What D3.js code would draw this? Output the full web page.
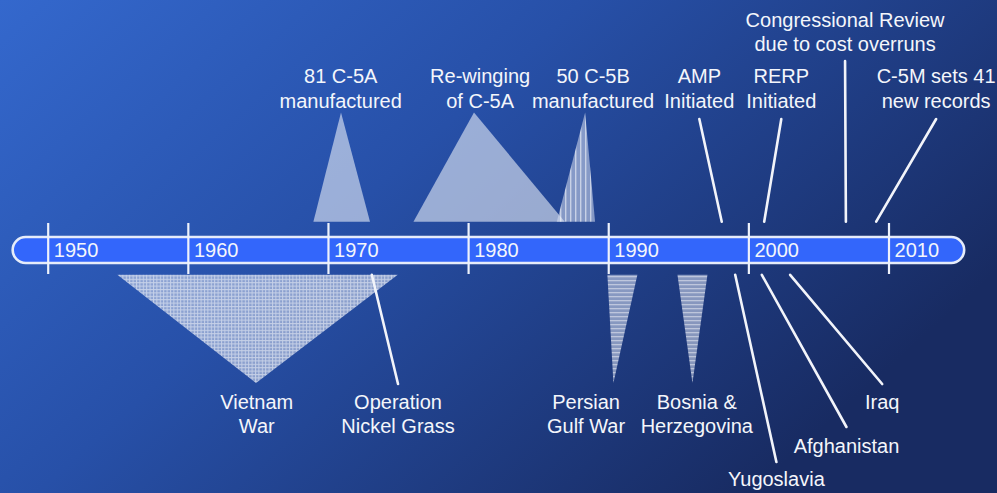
<!DOCTYPE html>
<html lang="en">
<head>
<meta charset="UTF-8">
<title>C-5 Timeline</title>
<style>
html, body {
    margin: 0;
    padding: 0;
    width: 100%;
    height: 100%;
    overflow: hidden;
}
#graph {
    width: 997px;
    height: 493px;
}
text {
    font-family: "Liberation Sans", Arial, sans-serif;
    fill: #f4f6fb;
}
.leader {
    stroke: #f2f4fa;
    stroke-width: 2.6;
    stroke-linecap: round;
    fill: none;
}
.tick line {
    stroke: #eef2fb;
    stroke-width: 2.2;
}
</style>
</head>
<body>

<div id="graph"></div>

<script src="https://d3js.org/d3.v7.min.js"></script>
<script>

// timeline extent and decade ticks
const span = [1947.5, 2015.4];
const decades = [1950, 1960, 1970, 1980, 1990, 2000, 2010];

// wedges above the bar (production / modification periods)
const wedgesAbove = [
    { text: ["81 C-5A", "manufactured"], start: 1968.96, peak: 1970.93, end: 1973.0, labelYear: 1970.91 },
    { text: ["Re-winging", "of C-5A"], start: 1976.1, peak: 1980.42, end: 1986.9, labelYear: 1980.86 },
    { text: ["50 C-5B", "manufactured"], start: 1986.33, peak: 1988.35, end: 1989.06, labelYear: 1988.92 }
];

// wedges below the bar (operations)
const wedgesBelow = [
    { text: ["Vietnam", "War"], start: 1954.97, peak: 1964.87, end: 1974.98, labelYear: 1964.92 },
    { text: ["Persian", "Gulf War"], start: 1989.94, peak: 1990.37, end: 1992.08, labelYear: 1988.42 },
    { text: ["Bosnia &", "Herzegovina"], start: 1994.94, peak: 1996.01, end: 1997.08, labelYear: 1996.32 }
];

// single-date events: year on the bar, year where the leader meets the label, label tier
const eventsAbove = [
    { text: ["AMP", "Initiated"], year: 1998.1, to: 1996.5, tier: 0 },
    { text: ["RERP", "Initiated"], year: 2001.13, to: 2002.35, tier: 0 },
    { text: ["Congressional Review", "due to cost overruns"], year: 2006.96, to: 2006.9, tier: 1 },
    { text: ["C-5M sets 41", "new records"], year: 2009.12, to: 2013.4, tier: 0 }
];

const eventsBelow = [
    { text: ["Operation", "Nickel Grass"], year: 1973.13, to: 1975.0, tier: 0 },
    { text: ["Yugoslavia"], year: 1999.06, to: 2002.0, tier: 2 },
    { text: ["Afghanistan"], year: 2000.96, to: 2007.0, tier: 1 },
    { text: ["Iraq"], year: 2002.98, to: 2009.55, tier: 0 }
];

!(function () {
    const width = 997;
    const height = 493;
    const fontSize = 20;
    const lineGap = 24.4;

    const bar = { cy: 250, h: 26 };
    const tickTop = 223, tickBottom = 274;
    const aboveBase = 221.7, aboveApex = 112.5;
    const belowBase = 274.8, belowApex = 383;

    // label baselines (first line) and leader ends for each tier
    const upperBaseline = [83.3, 27];
    const upperLeaderEnd = [119, 61];
    const lowerBaseline = [408.5, 452.7, 485.5];
    const lowerLeaderEnd = [384, 427, 462];

    // fill style per wedge, same order as data
    const abovePatterns = ["url(#solid)", "url(#solid)", "url(#vstripe)"];
    const belowPatterns = ["url(#grid)", "url(#hstripe)", "url(#hstripe)"];

    const svg = d3.select("#graph").append("svg")
        .attr("width", width)
        .attr("height", height);

    const xScale = d3.scaleLinear()
        .domain([1950, 2010])
        .range([47.7, 888.5]);

    drawDefs();
    drawBackground();
    drawWedges(wedgesAbove, abovePatterns, aboveBase, aboveApex);
    drawWedges(wedgesBelow, belowPatterns, belowBase, belowApex);
    drawBar();
    drawLeaders();
    drawLabels();

    function drawDefs() {
        const defs = svg.append("defs");

        const bg = defs.append("linearGradient")
            .attr("id", "bg")
            .attr("x1", 0).attr("y1", 0)
            .attr("x2", 1).attr("y2", 0.55);
        bg.append("stop").attr("offset", 0).attr("stop-color", "#3468cd");
        bg.append("stop").attr("offset", 0.45).attr("stop-color", "#2750a8");
        bg.append("stop").attr("offset", 1).attr("stop-color", "#182b62");

        defs.append("pattern")
            .attr("id", "solid")
            .attr("patternUnits", "userSpaceOnUse")
            .attr("width", 4).attr("height", 4)
            .append("rect")
            .attr("width", 4).attr("height", 4)
            .attr("fill", "rgba(226,232,246,0.62)");

        const grid = defs.append("pattern")
            .attr("id", "grid")
            .attr("patternUnits", "userSpaceOnUse")
            .attr("width", 3.4).attr("height", 3.4);
        grid.append("rect")
            .attr("width", 3.4).attr("height", 3.4)
            .attr("fill", "rgba(200,210,232,0.62)");
        grid.append("path")
            .attr("d", "M0,0.5H3.4M0.5,0V3.4")
            .attr("stroke", "rgba(255,255,255,0.5)")
            .attr("stroke-width", 1);

        const h = defs.append("pattern")
            .attr("id", "hstripe")
            .attr("patternUnits", "userSpaceOnUse")
            .attr("width", 4).attr("height", 4);
        h.append("rect")
            .attr("width", 4).attr("height", 4)
            .attr("fill", "rgba(205,214,234,0.6)");
        h.append("rect")
            .attr("width", 4).attr("height", 1.3)
            .attr("fill", "rgba(255,255,255,0.45)");

        const v = defs.append("pattern")
            .attr("id", "vstripe")
            .attr("patternUnits", "userSpaceOnUse")
            .attr("width", 5).attr("height", 5);
        v.append("rect")
            .attr("width", 5).attr("height", 5)
            .attr("fill", "rgba(215,222,240,0.55)");
        v.append("rect")
            .attr("width", 1.4).attr("height", 5)
            .attr("fill", "rgba(255,255,255,0.55)");
    }

    function drawBackground() {
        svg.append("rect")
            .attr("width", width)
            .attr("height", height)
            .attr("fill", "url(#bg)");
    }

    function drawWedges(data, patterns, baseY, apexY) {
        svg.append("g")
            .selectAll("path")
            .data(data)
            .enter().append("path")
            .attr("d", d => d3.line()([
                [xScale(d.start), baseY],
                [xScale(d.peak), apexY],
                [xScale(d.end), baseY]
            ]) + "Z")
            .attr("fill", (d, i) => patterns[i]);
    }

    function drawBar() {
        const x0 = xScale(span[0]);
        const x1 = xScale(span[1]);

        svg.append("rect")
            .attr("x", x0)
            .attr("y", bar.cy - bar.h / 2)
            .attr("width", x1 - x0)
            .attr("height", bar.h)
            .attr("rx", bar.h / 2)
            .attr("fill", "#3366fb")
            .attr("stroke", "#e6ecfa")
            .attr("stroke-width", 2.6);

        const axis = d3.axisBottom(xScale)
            .tickValues(decades)
            .tickFormat(d3.format("d"))
            .tickSize(tickBottom - tickTop);

        const g = svg.append("g")
            .attr("transform", `translate(0, ${tickTop})`)
            .call(axis);

        g.select(".domain").remove();
        g.selectAll(".tick text")
            .attr("text-anchor", "start")
            .attr("x", 5.6)
            .attr("y", 34.3)
            .attr("dy", null)
            .attr("font-size", fontSize)
            .attr("font-family", "'Liberation Sans', Arial, sans-serif")
            .attr("fill", "#f4f6fb");
    }

    function drawLeaders() {
        const g = svg.append("g");

        g.selectAll(".up")
            .data(eventsAbove)
            .enter().append("line")
            .attr("class", "leader")
            .attr("x1", d => xScale(d.year))
            .attr("y1", aboveBase)
            .attr("x2", d => xScale(d.to))
            .attr("y2", d => upperLeaderEnd[d.tier]);

        g.selectAll(".down")
            .data(eventsBelow)
            .enter().append("line")
            .attr("class", "leader")
            .attr("x1", d => xScale(d.year))
            .attr("y1", belowBase)
            .attr("x2", d => xScale(d.to))
            .attr("y2", d => lowerLeaderEnd[d.tier]);
    }

    function drawLabels() {
        const items = [];
        wedgesAbove.forEach(d => items.push({ text: d.text, x: xScale(d.labelYear), y: upperBaseline[0] }));
        wedgesBelow.forEach(d => items.push({ text: d.text, x: xScale(d.labelYear), y: lowerBaseline[0] }));
        eventsAbove.forEach(d => items.push({ text: d.text, x: xScale(d.to), y: upperBaseline[d.tier] }));
        eventsBelow.forEach(d => items.push({ text: d.text, x: xScale(d.to), y: lowerBaseline[d.tier] }));

        const labels = svg.append("g")
            .selectAll("text")
            .data(items)
            .enter().append("text")
            .attr("text-anchor", "middle")
            .attr("font-size", fontSize)
            .attr("x", d => d.x)
            .attr("y", d => d.y);

        labels.selectAll("tspan")
            .data(d => d.text.map((t, i) => ({ t: t, i: i, x: d.x })))
            .enter().append("tspan")
            .attr("x", d => d.x)
            .attr("dy", d => d.i === 0 ? 0 : lineGap)
            .text(d => d.t);
    }
}());

</script>

</body>
</html>
